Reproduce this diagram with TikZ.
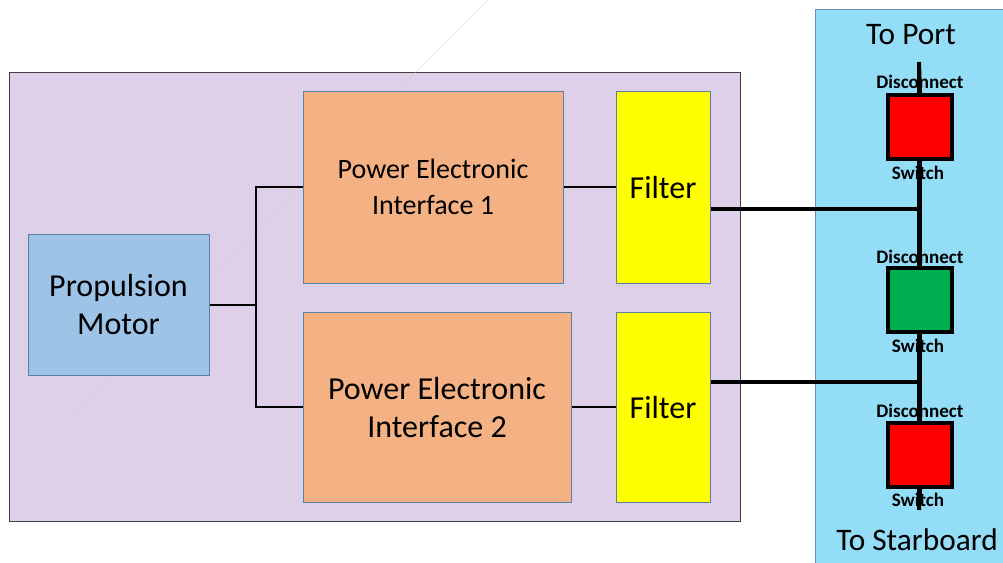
\documentclass[tikz,border=0pt]{standalone}
\usepackage{fontspec}
\setmainfont{Carlito}
\usetikzlibrary{calc}
\definecolor{lav}{HTML}{DDD0E8}
\definecolor{sky}{HTML}{94DDF6}
\definecolor{skyedge}{HTML}{6A8FB5}
\definecolor{motorfill}{HTML}{9DC3E6}
\definecolor{edgeblue}{HTML}{5A7FA8}
\definecolor{peach}{HTML}{F4B183}
\definecolor{swred}{HTML}{FF0000}
\definecolor{swgreen}{HTML}{00B050}
\definecolor{yel}{HTML}{FFFF00}
\tikzset{
  sz/.style 2 args={minimum width=#1*0.75pt, minimum height=#2*0.75pt},
  blockbox/.style={draw=edgeblue, line width=0.75pt, inner sep=0pt, align=center, font=\fontsize{24}{28.5}\selectfont},
  swbox/.style={draw=black, line width=3pt, inner sep=0pt, sz={64}{64}},
  thinwire/.style={line width=1.5pt, black},
  thickwire/.style={line width=3pt, black},
  swlbl/.style={font=\bfseries\fontsize{14.3}{15}\selectfont, inner sep=0pt},
  bigtxt/.style={font=\fontsize{23.5}{26}\selectfont, inner sep=0pt}
}
\begin{document}
\begin{tikzpicture}[x=0.75pt,y=-0.75pt]
\useasboundingbox (0,0) rectangle (1003,562);
\clip (0,0) rectangle (1003,562);
% containers
\node[draw=black!75, fill=lav, line width=0.75pt, sz={731}{449}] (outer) at (374.5,296.5) {};
\node[draw=skyedge, fill=sky, line width=0.75pt, sz={196}{562}] (right) at (913,290) {};
% faint slide artifact line
\draw[gray!40, line width=0.5pt, opacity=0.5] (488,0) -- (75,413);
% blocks
\node[blockbox, fill=motorfill, sz={181}{141}] (motor) at (118.5,304.5) {Propulsion\\Motor};
\node[blockbox, fill=peach, sz={260}{192}, font=\fontsize{21}{26.5}\selectfont] (pei1) at (433,187) {Power Electronic\\Interface 1};
\node[blockbox, fill=peach, sz={268}{190}] (pei2) at (437,407) {Power Electronic\\Interface 2};
\node[blockbox, fill=yel, sz={94}{192}] (f1) at (663,187) {Filter};
\node[blockbox, fill=yel, sz={94}{190}] (f2) at (663,407) {Filter};
% motor to interfaces
\coordinate (split) at (256,304.5);
\draw[thinwire] (motor.east) -- (split);
\draw[thinwire] (split) |- (pei1.west);
\draw[thinwire] (split) |- (pei2.west);
\draw[thinwire] (pei1.east) -- (f1.west);
\draw[thinwire] (pei2.east) -- (f2.west);
% bus
\coordinate (bustop) at (919,62);
\coordinate (busbot) at (919,510);
\coordinate (j1) at (919,208.5);
\coordinate (j2) at (919,382);
\draw[thickwire] (f1.east |- j1) -- (j1);
\draw[thickwire] (f2.east |- j2) -- (j2);
\draw[thickwire] (bustop) -- (busbot);
% switches
\node[swbox, fill=swred] (sw1) at (920,127) {};
\node[swbox, fill=swgreen] (sw2) at (920,300) {};
\node[swbox, fill=swred] (sw3) at (920,455) {};
\draw[thickwire] (bustop) -- (sw1.north);
\draw[thickwire] (sw1.south) -- (sw2.north);
\draw[thickwire] (sw2.south) -- (sw3.north);
\draw[thickwire] (sw3.south) -- (busbot);
% switch labels
\node[swlbl] (d1) at (920,82) {Disconnect};
\node[swlbl] (s1) at (918,172.5) {Switch};
\node[swlbl] (d2) at (920,256.5) {Disconnect};
\node[swlbl] (s2) at (918,346) {Switch};
\node[swlbl] (d3) at (920,410.5) {Disconnect};
\node[swlbl] (s3) at (918,500) {Switch};
% end labels
\node[bigtxt] (port) at (911,35) {To Port};
\node[bigtxt] (stbd) at (917,540) {To Starboard};
\end{tikzpicture}
\end{document}
